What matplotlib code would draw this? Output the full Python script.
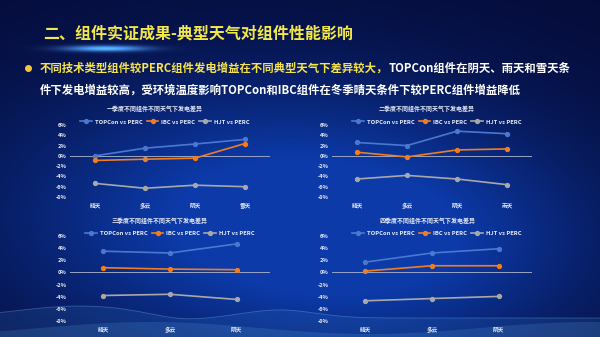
import numpy as np
import matplotlib
matplotlib.use("Agg")
import matplotlib.pyplot as plt
from matplotlib.ticker import FuncFormatter

plt.rcParams['font.family'] = ['Noto Sans CJK SC', 'DejaVu Sans']

# ---------------- data ----------------
titles = ["一季度不同组件不同天气下发电差异", "二季度不同组件不同天气下发电差异",
          "三季度不同组件不同天气下发电差异", "四季度不同组件不同天气下发电差异"]
cats_q1 = ["晴天", "多云", "阴天", "雪天"]
cats_q2 = ["晴天", "多云", "阴天", "雨天"]
cats_q3 = ["晴天", "多云", "阴天"]
cats_q4 = ["晴天", "多云", "阴天"]
series_names = ["TOPCon vs PERC", "IBC vs PERC", "HJT vs PERC"]

topcon_q1 = [0.0, 1.5, 2.3, 3.2]
ibc_q1 = [-0.9, -0.65, -0.45, 2.4]
hjt_q1 = [-5.35, -6.3, -5.7, -6.0]

topcon_q2 = [2.6, 2.0, 4.8, 4.3]
ibc_q2 = [0.7, -0.2, 1.15, 1.35]
hjt_q2 = [-4.5, -3.8, -4.5, -5.6]

topcon_q3 = [3.5, 3.2, 4.7]
ibc_q3 = [0.78, 0.55, 0.45]
hjt_q3 = [-3.8, -3.6, -4.45]

topcon_q4 = [1.7, 3.2, 3.9]
ibc_q4 = [0.22, 1.1, 1.1]
hjt_q4 = [-4.67, -4.3, -3.95]

yticks = [6, 4, 2, 0, -2, -4, -6, -8]

main_title = "二、组件实证成果-典型天气对组件性能影响"
bullet_yellow = "不同技术类型组件较PERC组件发电增益在不同典型天气下差异较大，"
bullet_white1 = "TOPCon组件在阴天、雨天和雪天条"
bullet_white2 = "件下发电增益较高，受环境温度影响TOPCon和IBC组件在冬季晴天条件下较PERC组件增益降低"

colors = ["#4a78d0", "#f07d22", "#a8a8a8"]

W, H = 600, 337
fig = plt.figure(figsize=(W / 100, H / 100), dpi=100)

# ---------------- background ----------------
bg = fig.add_axes([0, 0, 1, 1])
bg.set_axis_off()
yy, xx = np.mgrid[0:H, 0:W]
blob = np.exp(-(((xx - 250) / 260.0) ** 2 + ((yy - 215) / 140.0) ** 2))
blob2 = np.exp(-(((xx - 430) / 200.0) ** 2 + ((yy - 250) / 120.0) ** 2)) * 0.5
t = np.clip(blob + blob2, 0, 1)
dark = np.array([5, 12, 58]) / 255.0
bright = np.array([12, 58, 168]) / 255.0
img = dark[None, None, :] * (1 - t[..., None]) + bright[None, None, :] * t[..., None]
# title glow
glow = np.exp(-(((xx - 105) / 40.0) ** 2 + ((yy - 48) / 3.0) ** 2))
img = img + glow[..., None] * np.array([0.4, 0.8, 1.0])[None, None, :] * 0.8
img = np.clip(img, 0, 1)
bg.imshow(img, extent=[0, W, H, 0], aspect='auto', zorder=0)
bg.set_xlim(0, W)
bg.set_ylim(H, 0)
# bottom waves
xw = np.linspace(0, W, 400)
wave1 = 318 - 12 * np.exp(-((xw - 80) / 90.0) ** 2) + 4 * np.exp(-((xw - 180) / 40.0) ** 2) \
    - 8 * np.exp(-((xw - 280) / 50.0) ** 2)
bg.fill_between(xw, wave1, H, color="#3d8fe0", alpha=0.15, lw=0, zorder=1)
wave2 = 328 - 6 * np.sin((xw - 40) / 70.0)
bg.fill_between(xw, wave2, H, color="#6fc0ff", alpha=0.15, lw=0, zorder=1)
bg.plot(xw, wave1, color="#8fd0ff", alpha=0.3, lw=0.6, zorder=1)

# ---------------- header text ----------------
fig.text(43 / W, 1 - 33 / H, main_title, color="#f3e84a", fontsize=11.5,
         fontweight='bold', va='center', ha='left')
bg.scatter([28], [68], s=16, color="#f5c542", zorder=3)
t1 = fig.text(40 / W, 1 - 68 / H, bullet_yellow, color="#f7e34c", fontsize=8.2,
              fontweight='bold', va='center', ha='left')
renderer = fig.canvas.get_renderer()
bb = t1.get_window_extent(renderer=renderer)
fig.text(bb.x1 / fig.bbox.width, 1 - 68 / H, bullet_white1, color="white",
         fontsize=8.2, fontweight='bold', va='center', ha='left')
fig.text(40 / W, 1 - 90 / H, bullet_white2, color="white", fontsize=8.2,
         fontweight='bold', va='center', ha='left')

# ---------------- charts ----------------
panels = [
    (cats_q1, [topcon_q1, ibc_q1, hjt_q1], (70, 125, 270, 197), 155, 108, 122),
    (cats_q2, [topcon_q2, ibc_q2, hjt_q2], (332, 125, 532, 197), 427, 108, 122),
    (cats_q3, [topcon_q3, ibc_q3, hjt_q3], (70, 236, 270, 321), 160, 220, 233),
    (cats_q4, [topcon_q4, ibc_q4, hjt_q4], (332, 236, 532, 321), 427, 220, 233),
]

for i, (cats, series, (x0, y0, x1, y1), tx, ty, ly) in enumerate(panels):
    ax = fig.add_axes([x0 / W, 1 - y1 / H, (x1 - x0) / W, (y1 - y0) / H])
    ax.patch.set_alpha(0)
    xs = np.arange(len(cats))
    for vals, c, name in zip(series, colors, series_names):
        ax.plot(xs, vals, color=c, lw=1.2, marker='o', ms=2.8, label=name, zorder=3)
    ax.axhline(0, color="#9aa4c4", lw=0.7, zorder=2)
    ax.set_xlim(-0.5, len(cats) - 0.5)
    ax.set_ylim(-8, 6)
    ax.set_yticks(yticks)
    ax.yaxis.set_major_formatter(FuncFormatter(lambda v, p: f"{int(v)}%"))
    ax.set_xticks(xs)
    ax.set_xticklabels(cats)
    for s in ax.spines.values():
        s.set_visible(False)
    ax.tick_params(axis='both', length=0, colors="#e6ebf5", labelsize=4.1)
    ax.tick_params(axis='y', pad=2.5)
    ax.tick_params(axis='x', pad=4.0)
    for lab in ax.get_xticklabels() + ax.get_yticklabels():
        lab.set_fontweight('bold')
    fig.text(tx / W, 1 - ty / H, titles[i], color="#e8ecf5", fontsize=4.3,
             fontweight='bold', ha='center', va='center')
    leg = ax.legend(loc='center',
                    bbox_to_anchor=(((tx + 10) - x0) / (x1 - x0), 1 + (y0 - ly) / (y1 - y0)),
                    ncol=3, frameon=False, fontsize=4.2, handlelength=2.0,
                    columnspacing=0.7, handletextpad=0.5, borderaxespad=0)
    for txt in leg.get_texts():
        txt.set_color("#e6ebf5")
        txt.set_fontweight('bold')

fig.savefig("out.png", dpi=100)
